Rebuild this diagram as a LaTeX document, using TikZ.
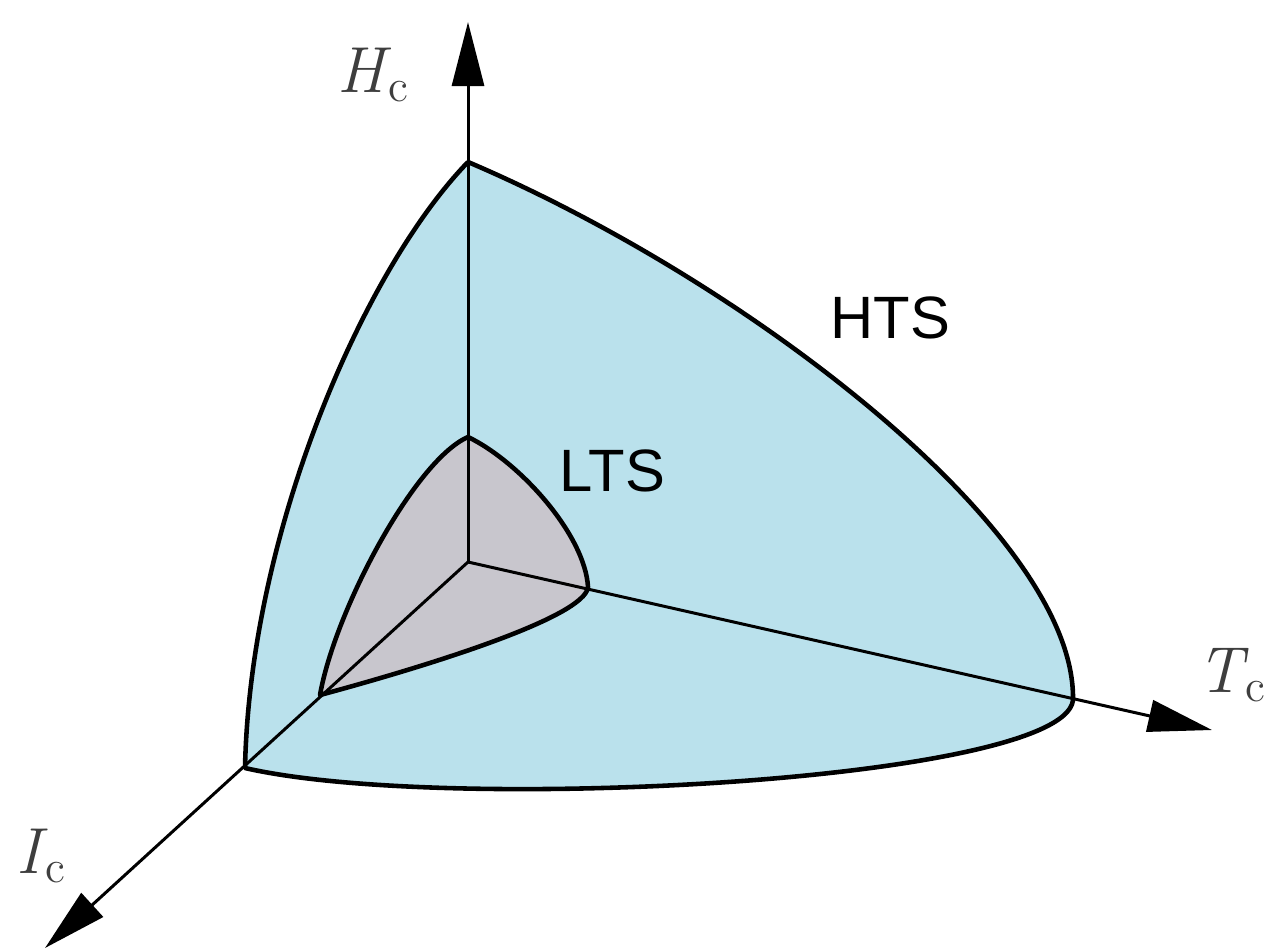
\documentclass[tikz,border=0pt]{standalone}
\usepackage{fontspec}
\setsansfont{Liberation Sans}
\usetikzlibrary{arrows.meta}
\definecolor{htsblue}{RGB}{186,225,236}
\definecolor{ltsgray}{RGB}{200,198,205}
\definecolor{labelgray}{RGB}{62,62,62}
\newcommand{\crit}[1]{\textit{#1}\kern-0.05em\textsubscript{c}}
\tikzset{
  axis/.style={line width=0.85pt, -{Triangle[length=0.64cm, width=0.32cm]}},
  rim/.style={line width=1.3pt, line join=round},
  axislabel/.style={text=labelgray, font=\fontsize{18.5}{22}\selectfont, inner sep=0pt, anchor=base west},
  sclabel/.style={font=\sffamily\fontsize{17}{20}\selectfont, inner sep=0pt, anchor=base west}
}

\begin{document}
\begin{tikzpicture}[x=0.01cm, y=-0.01cm]
  		\useasboundingbox (0,0) rectangle (1271,951);
  		% corners of the two surfaces
  		\coordinate (O) at (468,562);
  		\coordinate (Hhts) at (468,162);
  		\coordinate (Thts) at (1073,697);
  		\coordinate (Ihts) at (245,768);
  		\coordinate (Hlts) at (468,437);
  		\coordinate (Tlts) at (588,587);
  		\coordinate (Ilts) at (320,695);
  		\coordinate (Htip) at (468,22);
  		\coordinate (Ttip) at (1212,730);
  		\coordinate (Itip) at (45,948);

  		\fill[htsblue] (Hhts) .. controls (745,280) and (1072,530) .. (Thts)
  			.. controls (1080,780) and (450,815) .. (Ihts)
  			.. controls (250,530) and (365,268) .. (Hhts) -- cycle;
  		\fill[ltsgray] (Hlts) .. controls (520,462) and (585,535) .. (Tlts)
  			.. controls (585,618) and (420,668) .. (Ilts)
  			.. controls (335,610) and (415,460) .. (Hlts) -- cycle;

  		\draw[axis] (O) -- (Htip);
  		\draw[axis] (O) -- (Ttip);
  		\draw[axis] (O) -- (Itip);

  		\draw[rim] (Hhts) .. controls (745,280) and (1072,530) .. (Thts)
  			.. controls (1080,780) and (450,815) .. (Ihts)
  			.. controls (250,530) and (365,268) .. (Hhts);
  		\draw[rim] (Hlts) .. controls (520,462) and (585,535) .. (Tlts)
  			.. controls (585,618) and (420,668) .. (Ilts)
  			.. controls (335,610) and (415,460) .. (Hlts);

  		\node[axislabel] (hlabel) at (337,92) {\crit{H}};
  		\node[axislabel, anchor=base east] (tlabel) at (1268,692) {\crit{T}};
  		\node[axislabel] (ilabel) at (16,873) {\crit{I}};
  		\node[sclabel] (hts) at (830,338) {HTS};
  		\node[sclabel] (lts) at (559,491) {LTS};
  	\end{tikzpicture}
\end{document}
